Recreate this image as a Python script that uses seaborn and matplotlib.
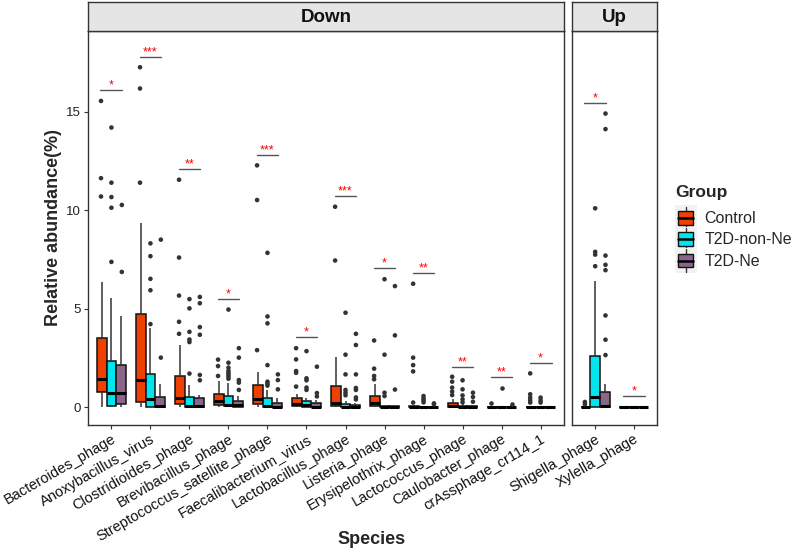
import numpy as np
import pandas as pd
import matplotlib
matplotlib.use("Agg")
import matplotlib.pyplot as plt
import seaborn as sns
from matplotlib.patches import Patch, Rectangle
from matplotlib.lines import Line2D
from matplotlib.legend_handler import HandlerBase

sns.set_theme(style="white")
plt.rcParams["font.family"] = ["Liberation Sans", "DejaVu Sans"]

# ── data ────────────────────────────────────────────────────────────────────
down_species = ["Bacteroides_phage", "Anoxybacillus_virus", "Clostridioides_phage",
                "Brevibacillus_phage", "Streptococcus_satellite_phage",
                "Faecalibacterium_virus", "Lactobacillus_phage", "Listeria_phage",
                "Erysipelothrix_phage", "Lactococcus_phage", "Caulobacter_phage",
                "crAssphage_cr114_1"]
up_species = ["Shigella_phage", "Xylella_phage"]
species = down_species + up_species
groups = ["Control", "T2D-non-Ne", "T2D-Ne"]
colors = ["#EE4000", "#00E5EE", "#8B668B"]

# box summary per species: [whisker low, q1, median, q3, whisker high]
control_box = [[0, 0.78, 1.45, 3.5, 6.35], [0, 0.29, 1.38, 4.71, 9.36],
               [0, 0.15, 0.49, 1.57, 3.16], [0, 0.12, 0.3, 0.69, 1.33],
               [0, 0.15, 0.4, 1.11, 1.81], [0, 0.05, 0.19, 0.45, 0.66],
               [0, 0.05, 0.2, 1.07, 2.57], [0, 0.05, 0.2, 0.57, 1.16],
               [0, 0.0, 0.02, 0.05, 0.1], [0, 0.02, 0.08, 0.22, 0.42],
               [0, 0, 0.01, 0.03, 0.06], [0, 0, 0.01, 0.03, 0.08],
               [0, 0, 0.01, 0.02, 0.05], [0, 0, 0, 0.01, 0.02]]
nonne_box = [[0, 0.07, 0.72, 2.33, 5.55], [0, 0.02, 0.4, 1.69, 4.0],
             [0, 0.0, 0.05, 0.52, 1.11], [0, 0.05, 0.12, 0.57, 1.22],
             [0, 0.0, 0.08, 0.45, 0.88], [0, 0.03, 0.1, 0.3, 0.49],
             [0, 0.0, 0.03, 0.18, 0.3], [0, 0, 0.01, 0.04, 0.08],
             [0, 0, 0.01, 0.03, 0.08], [0, 0, 0.02, 0.06, 0.15],
             [0, 0, 0.01, 0.02, 0.05], [0, 0, 0.01, 0.03, 0.08],
             [0, 0.03, 0.52, 2.62, 6.4], [0, 0, 0, 0.01, 0.02]]
ne_box = [[0, 0.18, 0.72, 2.16, 4.63], [0, 0.03, 0.05, 0.52, 1.2],
          [0, 0.03, 0.05, 0.45, 0.62], [0, 0.03, 0.13, 0.32, 0.57],
          [0, 0.0, 0.03, 0.2, 0.46], [0, 0, 0.03, 0.2, 0.35],
          [0, 0, 0.02, 0.13, 0.2], [0, 0, 0.01, 0.04, 0.08],
          [0, 0, 0.01, 0.03, 0.06], [0, 0, 0.01, 0.04, 0.1],
          [0, 0, 0.01, 0.03, 0.1], [0, 0, 0, 0.01, 0.02],
          [0, 0.03, 0.05, 0.78, 1.16], [0, 0, 0, 0.01, 0.02]]

control_out = [[15.55, 11.63, 10.7], [17.26, 16.18, 11.4],
               [11.55, 7.6, 5.67, 4.34, 3.73], [2.42, 2.09, 1.59],
               [12.28, 10.52, 2.9], [3.0, 2.43, 1.84, 1.75, 1.05],
               [10.18, 7.45], [3.39, 1.96, 1.59, 1.42],
               [6.27, 2.52, 2.14, 1.82, 0.24], [1.55, 1.3, 1.0, 0.8, 0.62],
               [0.24], [1.72, 0.66, 0.49, 0.35, 0.24], [0.27, 0.15], []]
nonne_out = [[14.2, 11.4, 10.67, 10.13, 7.38], [8.32, 7.67, 6.52, 5.94, 4.22],
             [5.49, 5.02, 3.83, 3.44, 3.31, 1.71],
             [4.96, 2.26, 2.01, 1.85, 1.75, 1.65, 1.55, 1.45],
             [7.84, 4.61, 4.26, 2.14, 1.3, 1.2, 1.1], [2.85, 1.47, 1.37, 1.0, 0.88],
             [4.8, 2.67, 1.67, 0.88, 0.74, 0.61], [6.5, 2.67, 0.74, 0.57],
             [0.57, 0.45, 0.35, 0.25], [1.37, 0.91, 0.6, 0.4, 0.25],
             [0.96], [0.49, 0.35, 0.24], [10.1, 7.89, 7.75, 7.16], []]
ne_out = [[10.27, 6.87], [8.51, 2.52], [5.6, 5.28, 4.07, 3.68, 1.64, 1.37],
          [3.0, 2.52, 1.38, 1.25, 0.88], [1.67, 1.38, 0.91], [2.06, 0.72, 0.55],
          [3.73, 3.16, 1.67, 0.98, 0.88, 0.5, 0.4], [6.15, 3.65, 0.9],
          [0.2, 0.15], [0.74, 0.52, 0.28], [0.15], [],
          [14.91, 14.12, 7.7, 7.23, 6.96, 4.66, 3.43, 2.65], []]

# significance bars
sig_y = [16.1, 17.8, 12.1, 5.5, 12.82, 3.56, 10.74, 7.06, 6.8, 2.04, 1.52, 2.26,
         15.45, 0.57]
sig_lab = ["*", "***", "**", "*", "***", "*", "***", "*", "**", "**", "**", "*",
           "*", "*"]

# ── long tables ────────────────────────────────────────────────────────────
box_rows, out_rows = [], []
for g, stats, outs in zip(groups, [control_box, nonne_box, ne_box],
                          [control_out, nonne_out, ne_out]):
    for sp, vals, ol in zip(species, stats, outs):
        box_rows += [(sp, g, v) for v in vals]
        out_rows += [(sp, g, v) for v in ol]
box_df = pd.DataFrame(box_rows, columns=["Species", "Group", "Abundance"])
out_df = pd.DataFrame(out_rows, columns=["Species", "Group", "Abundance"])
sig_df = pd.DataFrame({"Species": species, "y": sig_y, "label": sig_lab})

pal = dict(zip(groups, colors))
dark = "#333333"

# ── figure ─────────────────────────────────────────────────────────────────
W, H = 800, 551
fig = plt.figure(figsize=(W / 100, H / 100), dpi=100)


def fx(px):
    return px / W


def fy(py):
    return 1 - py / H


panel_top, panel_bot = 31, 425
panels = [(88, 564, down_species, "Down"), (572, 657, up_species, "Up")]
axes = []
for x0, x1, sp_list, title in panels:
    ax = fig.add_axes([fx(x0), fy(panel_bot), fx(x1 - x0), (panel_bot - panel_top) / H])
    sub = box_df[box_df["Species"].isin(sp_list)]
    osub = out_df[out_df["Species"].isin(sp_list)]
    sns.boxplot(data=sub, x="Species", y="Abundance", hue="Group", order=sp_list,
                hue_order=groups, palette=pal, saturation=1, whis=(0, 100),
                width=0.75, linecolor="#111111", linewidth=1.1, showcaps=False,
                showfliers=False, legend=False, ax=ax,
                medianprops=dict(color="black", linewidth=2.2),
                whiskerprops=dict(color=dark, linewidth=1.1))
    sns.stripplot(data=osub, x="Species", y="Abundance", hue="Group", order=sp_list,
                  hue_order=groups, palette={g: dark for g in groups}, dodge=True,
                  jitter=False, size=3.3, linewidth=0, legend=False, ax=ax)
    ssub = sig_df[sig_df["Species"].isin(sp_list)]
    for i, (yv, lab) in enumerate(zip(ssub["y"], ssub["label"])):
        ax.plot([i - 0.28, i + 0.28], [yv, yv], color="#555555", lw=1)
        ax.annotate(lab, (i, yv), xytext=(0, 1.2), textcoords="offset points",
                    ha="center", va="baseline", color="red", fontsize=9)
    ax.set_xlim(-0.6, len(sp_list) - 0.4)
    ax.set_ylim(-0.9, 19.1)
    ax.set_xlabel("")
    ax.set_ylabel("")
    ax.set_yticks([0, 5, 10, 15])
    for s in ax.spines.values():
        s.set_color(dark)
        s.set_linewidth(1)
    ax.tick_params(axis="both", length=3, width=0.8, color=dark, labelsize=9.5,
                   labelcolor="#222222", pad=2, bottom=True, left=True)
    ax.set_xticks(range(len(sp_list)))
    ax.set_xticklabels(sp_list, rotation=30, ha="right", va="top",
                       rotation_mode="anchor", fontsize=10.5, color="#111111")
    # facet strip
    sax = fig.add_axes([fx(x0), fy(panel_top), fx(x1 - x0), 29 / H])
    sax.set_facecolor("#E5E5E5")
    sax.set_xticks([])
    sax.set_yticks([])
    for s in sax.spines.values():
        s.set_color(dark)
        s.set_linewidth(1)
    sax.text(0.5, 0.45, title, ha="center", va="center", fontsize=13.5,
             fontweight="bold", color="#111111", transform=sax.transAxes)
    axes.append(ax)

axes[1].tick_params(axis="y", left=False, labelleft=False)

fig.text(fx(54), fy(228), "Relative abundance(%)", rotation=90, ha="center",
         va="center", fontsize=13, fontweight="bold")
fig.text(fx(372), fy(540), "Species", ha="center", va="center", fontsize=13,
         fontweight="bold")


# ── legend with box-shaped keys ────────────────────────────────────────────
class BoxKey(HandlerBase):
    def create_artists(self, legend, orig_handle, xd, yd, w, h, fontsize, trans):
        x0, y0 = -xd, -yd
        bg = Rectangle((x0, y0 - 2), w, h + 4, facecolor="#F2F2F2",
                       edgecolor="none", transform=trans)
        cx = x0 + w / 2
        wl = Line2D([cx, cx], [y0 - 1, y0 + h + 1], color=dark, lw=1,
                    transform=trans)
        box = Rectangle((x0 + w * 0.15, y0 + h * 0.15), w * 0.7, h * 0.7,
                        facecolor=orig_handle.get_facecolor(), edgecolor="#111111",
                        lw=1, transform=trans)
        med = Line2D([x0 + w * 0.15, x0 + w * 0.85], [y0 + h / 2] * 2,
                     color="black", lw=1.8, transform=trans)
        return [bg, wl, box, med]


fig.text(fx(675), fy(193), "Group", ha="left", va="center", fontsize=12.5,
         fontweight="bold")
handles = [Patch(facecolor=c) for c in colors]
leg = fig.legend(handles, groups, handler_map={Patch: BoxKey()},
                 loc="upper left", bbox_to_anchor=(fx(675), fy(208)), frameon=False,
                 fontsize=11.5, handlelength=1.35, handleheight=1.5,
                 labelspacing=0.12, handletextpad=0.5, borderpad=0,
                 borderaxespad=0)

fig.savefig("out.png", dpi=100)
